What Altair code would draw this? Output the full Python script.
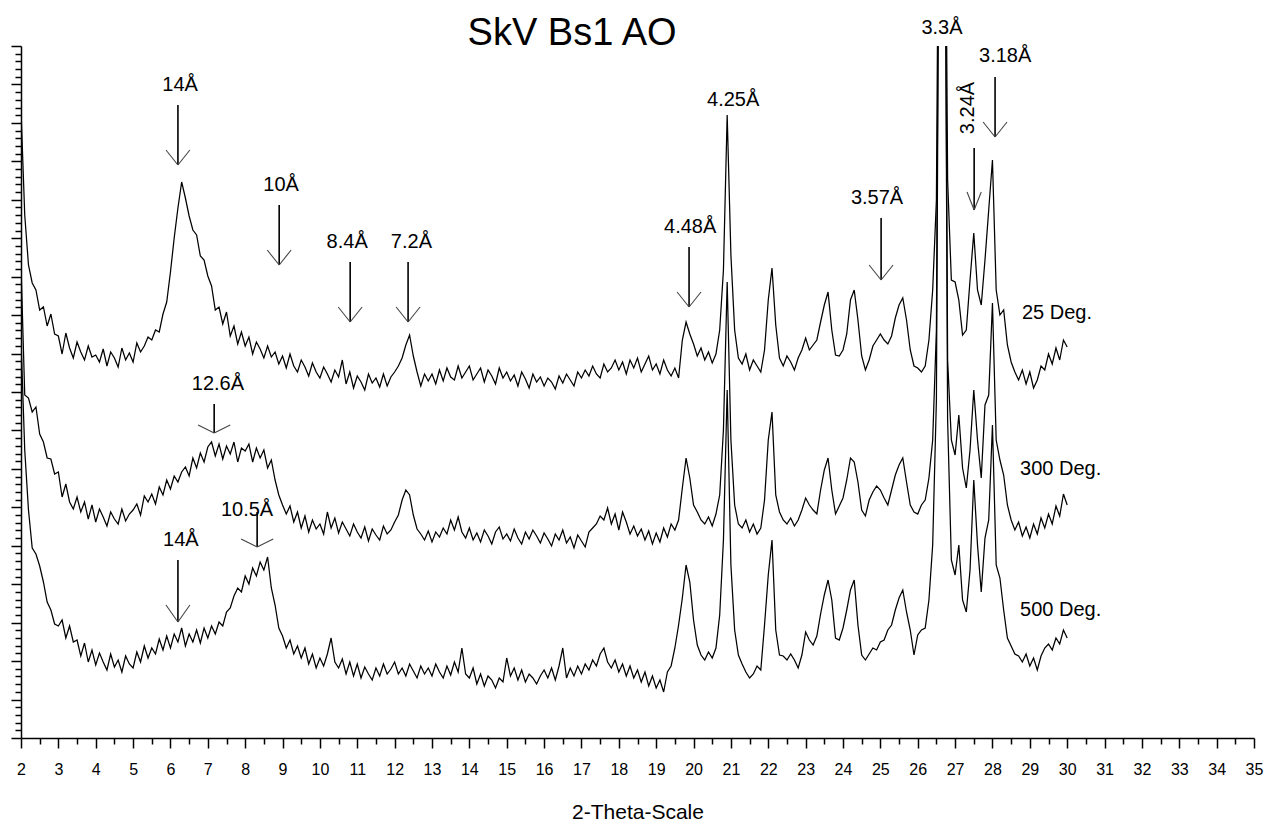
import altair as alt
import pandas as pd

FONT = "Liberation Sans"

# ---------------- data ----------------
two_theta = [round(2.0 + 0.1 * i, 1) for i in range(281)]

int_25 = [
    628, 523, 473, 455, 448, 428, 431, 412, 424, 404,
    402, 384, 405, 390, 380, 396, 386, 378, 392, 381,
    383, 376, 389, 372, 386, 380, 371, 390, 378, 385,
    376, 395, 386, 392, 401, 398, 408, 406, 424, 436,
    466, 500, 530, 556, 540, 522, 508, 503, 482, 478,
    462, 452, 428, 431, 414, 426, 402, 412, 394, 406,
    392, 401, 384, 396, 389, 380, 392, 381, 386, 374,
    382, 370, 384, 372, 366, 378, 371, 362, 375, 366,
    360, 371, 364, 356, 368, 361, 378, 354, 366, 350,
    362, 356, 348, 364, 355, 360, 351, 364, 352, 361,
    366, 372, 380, 393, 403, 382, 366, 352, 364, 357,
    364, 354, 368, 357, 370, 361, 358, 372, 360, 366,
    372, 358, 364, 370, 356, 368, 362, 354, 370, 360,
    366, 357, 363, 352, 366, 359, 350, 364, 356, 361,
    352, 360, 356, 349, 362, 355, 364, 358, 352, 366,
    360, 368, 362, 372, 364, 360, 374, 366, 370, 378,
    368, 376, 364, 378, 370, 380, 366, 374, 382, 368,
    374, 364, 378, 368, 362, 370, 360, 398, 416, 404,
    394, 382, 390, 378, 386, 375, 384, 408, 468, 623,
    483, 408, 380, 374, 384, 368, 378, 372, 366, 388,
    438, 470, 413, 380, 372, 382, 376, 368, 380, 388,
    400, 388, 393, 398, 416, 433, 446, 408, 383, 382,
    388, 404, 438, 448, 418, 382, 368, 378, 392, 398,
    404, 398, 394, 402, 420, 433, 440, 418, 388, 372,
    370, 366, 372, 398, 448, 538, 1100, 1100, 558, 458,
    456, 438, 403, 408, 458, 505, 448, 433, 478, 528,
    578, 448, 423, 428, 393, 376, 366, 358, 368, 354,
    366, 350, 358, 372, 368, 384, 374, 390, 378, 398,
    391,
]

int_300 = [
    473, 343, 340, 326, 331, 304, 296, 280, 279, 264,
    266, 241, 254, 236, 229, 241, 226, 236, 219, 233,
    216, 229, 221, 212, 226, 219, 214, 229, 217, 224,
    228, 234, 223, 242, 236, 244, 234, 251, 243, 258,
    249, 262, 256, 266, 271, 262, 280, 270, 285, 276,
    291, 296, 282, 294, 279, 292, 284, 296, 276, 290,
    287, 294, 276, 290, 280, 288, 270, 278, 258, 243,
    233, 224, 232, 216, 226, 210, 222, 206, 218, 209,
    214, 204, 226, 210, 220, 205, 216, 209, 202, 214,
    206, 200, 211, 197, 209, 203, 198, 212, 204, 208,
    216, 223, 238, 248, 243, 223, 209, 204, 198, 207,
    196, 206, 201, 210, 204, 218, 208, 221, 206, 200,
    210, 198, 205, 196, 208, 202, 194, 206, 211, 199,
    204, 197, 209, 200, 194, 206, 199, 208, 202, 195,
    205, 199, 192, 204, 198, 208, 195, 201, 190, 203,
    197, 191, 206, 210, 214, 222, 218, 230, 214, 224,
    208, 226, 216, 204, 212, 202, 209, 198, 207, 194,
    205, 196, 210, 201, 214, 208, 218, 250, 280, 260,
    233, 226, 218, 214, 221, 212, 224, 243, 308, 456,
    298, 233, 214, 210, 218, 206, 214, 204, 210, 238,
    298, 326, 243, 226, 218, 214, 220, 212, 218, 228,
    240, 233, 228, 224, 248, 268, 280, 248, 224, 232,
    240, 258, 280, 276, 256, 228, 222, 238, 246, 252,
    248, 240, 233, 248, 263, 273, 280, 256, 233, 226,
    224, 233, 238, 260, 298, 408, 1100, 1100, 378, 298,
    283, 323, 270, 250, 288, 348, 298, 260, 333, 343,
    435, 298, 278, 263, 233, 218, 208, 216, 202, 211,
    200, 214, 204, 220, 210, 224, 214, 232, 222, 244,
    233,
]

int_500 = [
    398, 288, 228, 190, 184, 172, 156, 136, 128, 114,
    112, 118, 100, 112, 96, 98, 82, 95, 76, 88,
    73, 85, 76, 68, 84, 71, 78, 66, 82, 74,
    70, 86, 76, 92, 80, 90, 84, 99, 88, 102,
    90, 104, 96, 110, 92, 104, 96, 108, 95, 110,
    100, 112, 104, 116, 112, 126, 130, 142, 150, 146,
    162, 154, 170, 162, 176, 168, 181, 150, 133, 110,
    102, 90, 98, 84, 92, 80, 90, 74, 84, 70,
    80, 72, 84, 100, 76, 70, 79, 64, 76, 62,
    74, 60, 71, 64, 58, 70, 62, 74, 64, 69,
    76, 64, 70, 62, 74, 67, 60, 72, 64, 70,
    62, 74, 66, 60, 72, 63, 76, 66, 90, 64,
    60, 70, 54, 64, 52, 62, 58, 50, 60, 56,
    80, 62, 70, 58, 68, 56, 64, 60, 54, 62,
    68, 60, 70, 58, 72, 90, 60, 70, 62, 72,
    64, 74, 68, 78, 72, 84, 90, 76, 70, 78,
    66, 74, 62, 72, 60, 68, 56, 66, 52, 62,
    50, 58, 46, 66, 72, 90, 113, 140, 173, 156,
    118, 93, 83, 78, 86, 80, 90, 123, 198, 348,
    173, 108, 83, 74, 66, 60, 64, 72, 68, 113,
    163, 198, 108, 83, 82, 78, 84, 78, 70, 83,
    106, 98, 93, 102, 124, 143, 158, 138, 100, 98,
    110, 128, 148, 158, 113, 83, 78, 84, 90, 88,
    96, 98, 108, 113, 128, 140, 148, 126, 108, 83,
    103, 108, 110, 138, 193, 338, 1100, 1100, 318, 178,
    163, 193, 138, 126, 168, 258, 193, 146, 200, 218,
    313, 173, 160, 128, 100, 92, 84, 82, 76, 84,
    72, 80, 68, 82, 90, 94, 88, 100, 94, 108,
    100,
]

series_names = ["25 Deg.", "300 Deg.", "500 Deg."]
series_label_x = [28.79, 28.74, 28.74]
series_label_y = [425, 269, 128]

ann_text = ["14Å", "10Å", "8.4Å", "7.2Å", "4.48Å", "4.25Å", "3.57Å", "3.3Å",
            "3.18Å", "3.24Å", "12.6Å", "10.5Å", "14Å"]
ann_x = [6.26, 8.96, 10.73, 12.45, 19.91, 21.06, 24.91, 26.65, 28.34, 27.35, 7.27, 8.05, 6.28]
ann_y = [653, 553, 496, 496, 511, 638, 540, 710, 682, 630, 354, 228, 198]
ann_angle = [0, 0, 0, 0, 0, 0, 0, 0, 0, 270, 0, 0, 0]

arrow_x = [6.20, 8.91, 10.81, 12.36, 19.88, 25.02, 28.07, 27.51, 7.17, 8.32, 6.20]
arrow_top = [633, 533, 476, 476, 491, 520, 661, 590, 334, 226, 178]
arrow_tip = [573, 473, 416, 416, 431, 458, 601, 528, 305, 191, 116]
arrow_head = ["normal", "normal", "normal", "normal", "normal", "normal",
              "normal", "narrow", "flat", "flat", "tall"]

chart_title = "SkV Bs1 AO"
title_x, title_y = 16.75, 693

# ---------------- styles ----------------
HEAD_SHAPE = {"normal": (0.32, 15), "narrow": (0.19, 18), "flat": (0.43, 8), "tall": (0.32, 17)}
Y_MAX = 692

# ---------------- tables ----------------
rows = []
for name, vals in zip(series_names, [int_25, int_300, int_500]):
    for x, v in zip(two_theta, vals):
        rows.append({"two_theta": x, "intensity": v, "series": name})
traces = pd.DataFrame(rows)

ann = pd.DataFrame({"label": ann_text, "x": ann_x, "y": ann_y, "angle": ann_angle})
shafts = pd.DataFrame({"x": arrow_x, "top": arrow_top, "tip": arrow_tip})
head_rows = []
for x, tip, kind in zip(arrow_x, arrow_tip, arrow_head):
    hw, hh = HEAD_SHAPE[kind]
    for s in (-1, 1):
        head_rows.append({"x": x, "y": tip, "x2": x + s * hw, "y2": tip + hh})
heads = pd.DataFrame(head_rows)
slabels = pd.DataFrame({"label": series_names, "x": series_label_x, "y": series_label_y})
ttl = pd.DataFrame({"label": [chart_title], "x": [title_x], "y": [title_y]})

x_scale = alt.Scale(domain=[2, 35], nice=False, zero=False)
y_scale = alt.Scale(domain=[0, Y_MAX], nice=False, zero=False)

x_tick_values = [2 + 0.5 * i for i in range(67)]
y_tick_values = [Y_MAX * i / 90 for i in range(91)]

x_axis = alt.Axis(
    values=x_tick_values,
    labelExpr="datum.value % 1 === 0 ? format(datum.value, 'd') : ''",
    tickSize={"condition": {"test": "datum.value % 1 === 0", "value": 10}, "value": 6},
    labelPadding=13,
    labelFlush=False,
    labelOverlap=False,
    title="2-Theta-Scale",
    titlePadding=24,
)
major_test = "abs(datum.value / %f - round(datum.value / %f)) < 0.01" % (Y_MAX / 18, Y_MAX / 18)
y_axis = alt.Axis(
    values=y_tick_values,
    labels=False,
    title=None,
    tickSize={"condition": {"test": major_test, "value": 10}, "value": 6},
)

def xy(xf, yf):
    return dict(
        x=alt.X(xf, scale=x_scale, axis=x_axis),
        y=alt.Y(yf, scale=y_scale, axis=y_axis),
    )

lines = alt.Chart(traces).mark_line(color="black", strokeWidth=1.25, clip=True).encode(
    detail="series:N", **xy("two_theta:Q", "intensity:Q")
)

shaft_layer = alt.Chart(shafts).mark_rule(color="black", strokeWidth=1.6).encode(
    y2="tip:Q", **xy("x:Q", "top:Q")
)

head_layer = alt.Chart(heads).mark_rule(color="#444444", strokeWidth=1.1).encode(
    x2="x2:Q", y2="y2:Q", **xy("x:Q", "y:Q")
)

ann_layer = alt.Chart(ann).mark_text(
    font=FONT, fontSize=20, color="black", align="center", baseline="middle"
).encode(
    text="label:N",
    angle=alt.Angle("angle:Q", scale=None),
    **xy("x:Q", "y:Q")
)

series_layer = alt.Chart(slabels).mark_text(
    font=FONT, fontSize=20, color="black", align="left", baseline="middle"
).encode(text="label:N", **xy("x:Q", "y:Q"))

title_layer = alt.Chart(ttl).mark_text(
    font=FONT, fontSize=38, color="black", align="center", baseline="alphabetic"
).encode(text="label:N", **xy("x:Q", "y:Q"))

chart = alt.layer(
    lines, shaft_layer, head_layer, ann_layer, series_layer, title_layer
).properties(
    width=1233,
    height=692,
    padding={"left": 21, "top": 46, "right": 13, "bottom": 87},
    autosize=alt.AutoSizeParams(type="none"),
    background="white",
).configure_view(
    stroke=None
).configure_axis(
    grid=False,
    domainColor="black",
    domainWidth=1.5,
    tickColor="black",
    tickWidth=1.5,
    labelFont=FONT,
    labelFontSize=16,
    labelColor="black",
    titleFont=FONT,
    titleFontSize=21,
    titleFontWeight="normal",
    titleColor="black",
)

chart.save("out.html", embed_options={"renderer": "svg", "actions": False})
